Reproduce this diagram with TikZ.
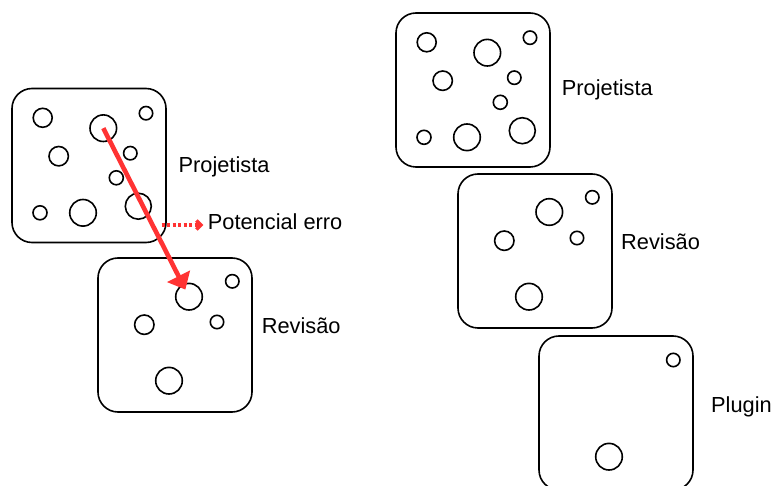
\documentclass[tikz,border=0pt]{standalone}
\usepackage{fontspec}
\setmainfont{Liberation Sans}
\usetikzlibrary{arrows.meta}
\definecolor{errred}{HTML}{FF3333}

\tikzset{
  card/.style={draw, rounded corners=20pt, minimum width=154pt, minimum height=154pt, line width=1.6pt, inner sep=0pt, outer sep=0pt},
  bubble/.style={draw, circle, inner sep=0pt, outer sep=0pt, line width=1.6pt},
  tag/.style={anchor=base west, inner sep=0pt, font=\fontsize{21.8}{26}\selectfont},
}

\begin{document}
\begin{tikzpicture}[x=1pt,y=1pt]
\useasboundingbox (0,0) rectangle (772,-486);

% left side: projetista and revisao
\node[card] (pl) at (89,-165.5) {};
\foreach \n/\cx/\cy/\cr in {1/30.7/29.3/9.5, 2/91.3/39.7/13.3, 3/134/24.7/6.7, 4/46.7/67.7/9.7, 5/118.3/64.7/6.7, 6/104.3/89.3/7, 7/28/124.3/7, 8/71/124.3/13.3, 9/126.3/117.7/13}
  \node[bubble, minimum size={2*\cr pt}] (pl\n) at ([shift={(\cx,-\cy)}]pl.north west) {};
\node[tag] (plt) at ([shift={(12.4,-83.7)}]pl.north east) {Projetista};

\node[card] (rl) at (175,-335) {};
\foreach \n/\cx/\cy/\cr in {2/91/38.7/13.3, 3/134.3/23.3/6.7, 4/46.3/66.7/9.7, 5/119/64/6.7, 8/71/122.7/13.3}
  \node[bubble, minimum size={2*\cr pt}] (rl\n) at ([shift={(\cx,-\cy)}]rl.north west) {};
\node[tag] (rlt) at ([shift={(9.6,-76)}]rl.north east) {Revisão};

% the error that slips through
\node[tag] (pot) at (207.7,-229.7) {Potencial erro};
\coordinate (err) at (161.5,-225);
\draw[errred, line width=4.6pt, -{Triangle[length=15pt,width=25pt]}, shorten >=8pt] (pl2.center) -- (rl2.center);
\draw[errred, line width=3.4pt, dash pattern=on 3pt off 2.5pt, -{Straight Barb[length=4.5pt,width=9pt]}] (err) -- ([xshift=-4.4pt]err -| pot.west);

% right side: projetista, revisao and plugin
\node[card] (pr) at (473,-90) {};
\foreach \n/\cx/\cy/\cr in {1/30.7/29.3/9.5, 2/91.3/39.7/13.3, 3/134/24.7/6.7, 4/46.7/67.7/9.7, 5/118.3/64.7/6.7, 6/104.3/89.3/7, 7/28/124.3/7, 8/71/124.3/13.3, 9/126.3/117.7/13}
  \node[bubble, minimum size={2*\cr pt}] (pr\n) at ([shift={(\cx,-\cy)}]pr.north west) {};
\node[tag] (prt) at ([shift={(11.7,-82.7)}]pr.north east) {Projetista};

\node[card] (rr) at (535,-251) {};
\foreach \n/\cx/\cy/\cr in {2/91.3/38/13.3, 3/134.3/23.3/6.7, 4/46.3/66.7/9.7, 5/119/64/6.7, 8/71/122.7/13.3}
  \node[bubble, minimum size={2*\cr pt}] (rr\n) at ([shift={(\cx,-\cy)}]rr.north west) {};
\node[tag] (rrt) at ([shift={(9,-76)}]rr.north east) {Revisão};

\node[card] (gr) at (616,-413) {};
\foreach \n/\cx/\cy/\cr in {3/134.3/24/6.7, 8/70/120.7/13.3}
  \node[bubble, minimum size={2*\cr pt}] (gr\n) at ([shift={(\cx,-\cy)}]gr.north west) {};
\node[tag] (grt) at ([shift={(18,-76.3)}]gr.north east) {Plugin};
\end{tikzpicture}
\end{document}
